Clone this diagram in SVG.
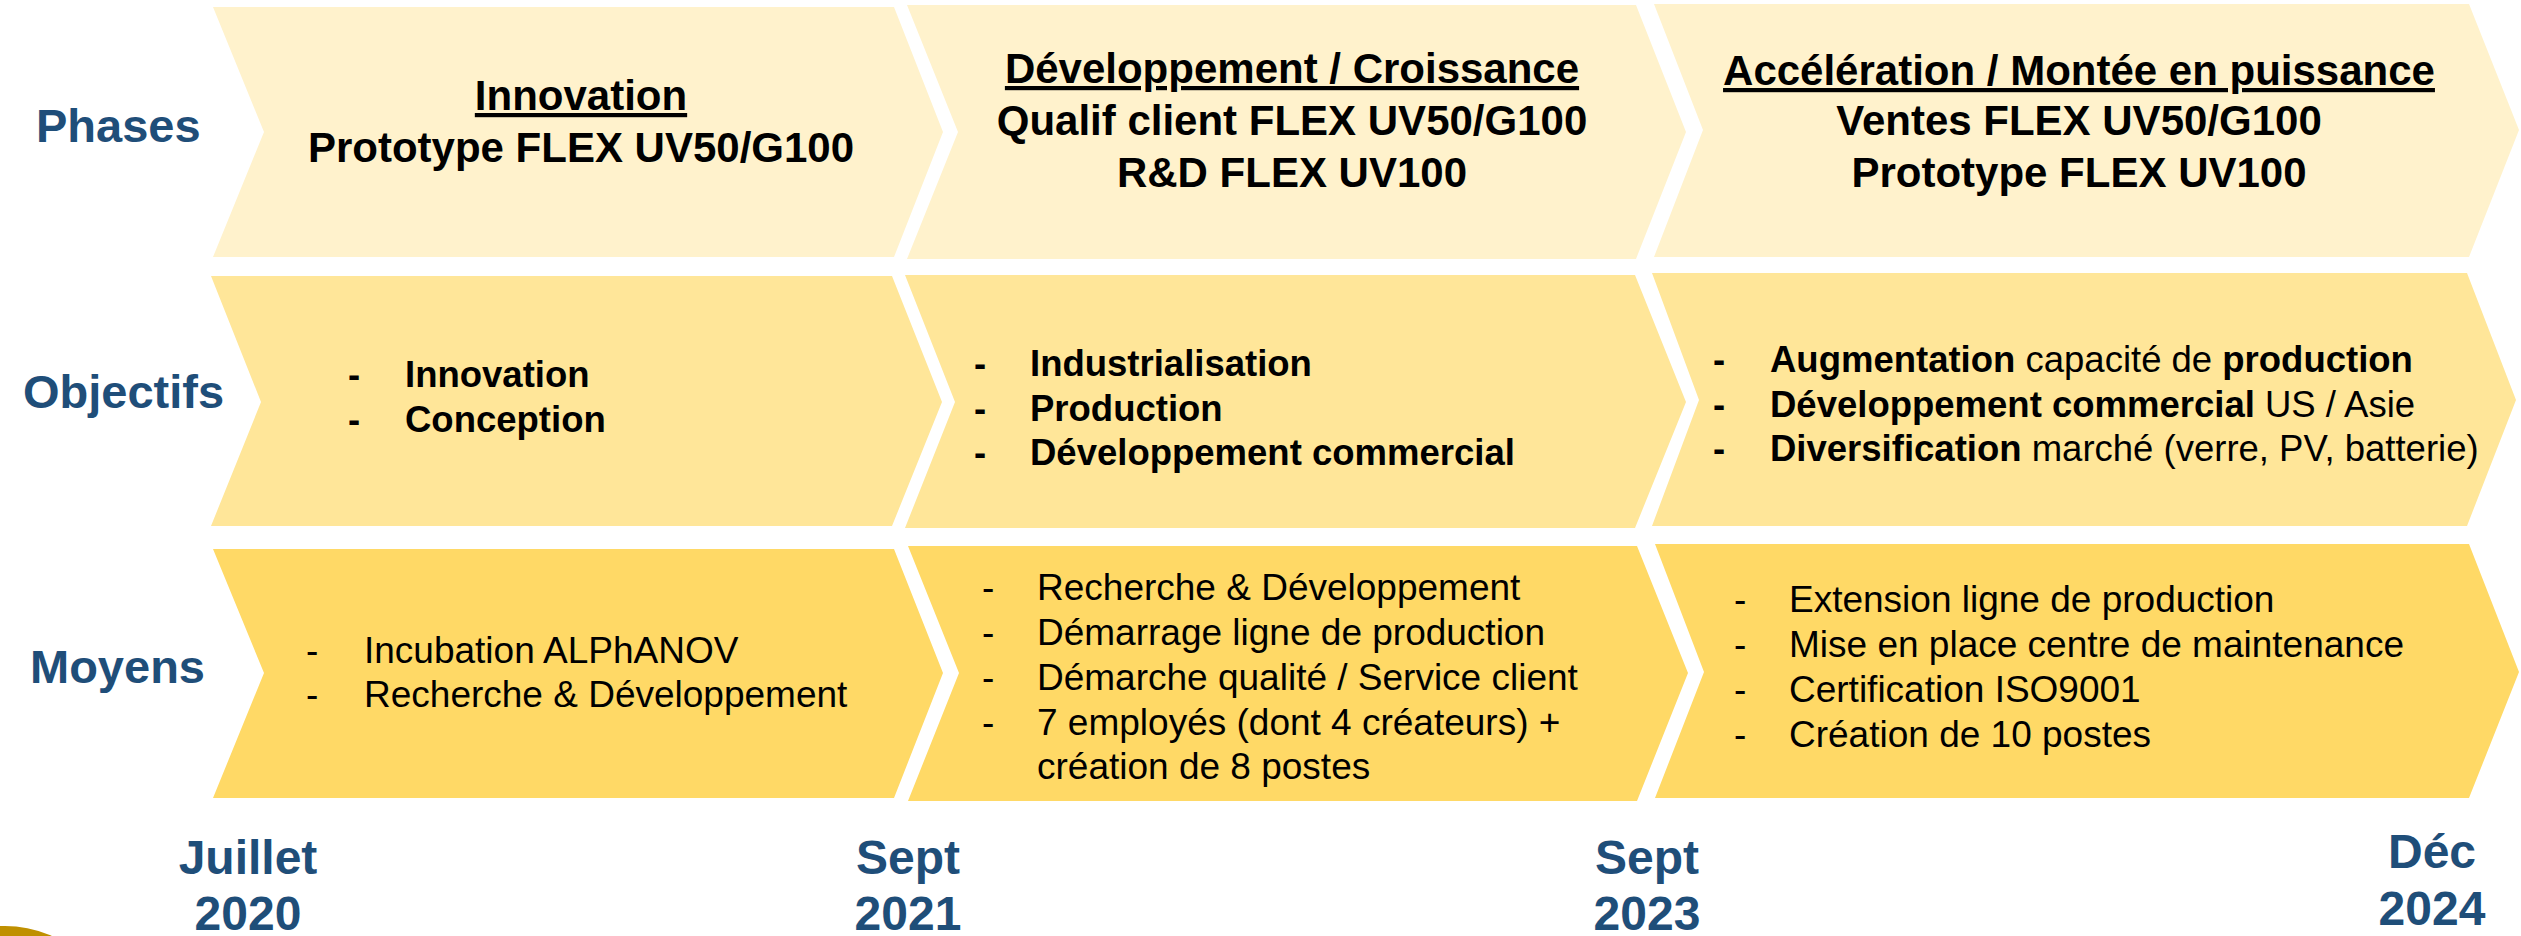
<svg xmlns="http://www.w3.org/2000/svg" width="2521" height="936" viewBox="0 0 2521 936">
<style>
text{font-family:"Liberation Sans",Arial,sans-serif;fill:#000}
.lbl{font-size:47px;font-weight:bold;fill:#1F4E79}
.date{font-size:48px;font-weight:bold;fill:#1F4E79;text-anchor:middle}
.ph{font-size:42px;font-weight:bold;text-anchor:middle}
.u{text-decoration:underline}
.obj{font-size:36.5px;font-weight:bold}
.objn{font-size:36.5px}
.moy{font-size:37px}
.r1{fill:#FFF2CC}.r2{fill:#FFE699}.r3{fill:#FFD966}
</style>
<rect width="2521" height="936" fill="#fff"/>
<circle cx="5" cy="1041" r="115" fill="#BF9000"/>
<g id="labels">
<text class="lbl" x="36" y="142">Phases</text>
<text class="lbl" x="23" y="408">Objectifs</text>
<text class="lbl" x="30" y="683">Moyens</text>
</g>
<g id="phase1">
<polygon class="r1" points="213,7 894,7 943,132 894,257 213,257 264,132"/>
<text class="ph u" x="581" y="110">Innovation</text>
<text class="ph" x="581" y="162">Prototype FLEX UV50/G100</text>
</g>
<g id="phase2">
<polygon class="r1" points="907,5 1636,5 1686,132 1636,259 907,259 958,132"/>
<text class="ph u" x="1292" y="83">Développement / Croissance</text>
<text class="ph" x="1292" y="135">Qualif client FLEX UV50/G100</text>
<text class="ph" x="1292" y="187">R&amp;D FLEX UV100</text>
</g>
<g id="phase3">
<polygon class="r1" points="1654,4 2469,4 2519,130 2469,257 1654,257 1703,130"/>
<text class="ph u" x="2079" y="85">Accélération / Montée en puissance</text>
<text class="ph" x="2079" y="135">Ventes FLEX UV50/G100</text>
<text class="ph" x="2079" y="187">Prototype FLEX UV100</text>
</g>
<g id="obj1">
<polygon class="r2" points="211,276 892,276 942,402 892,526 211,526 261,402"/>
<text class="obj" x="348" y="387">-</text><text class="obj" x="405" y="387">Innovation</text>
<text class="obj" x="348" y="432">-</text><text class="obj" x="405" y="432">Conception</text>
</g>
<g id="obj2">
<polygon class="r2" points="905,275 1635,275 1686,402 1635,528 905,528 955,402"/>
<text class="obj" x="974" y="376">-</text><text class="obj" x="1030" y="376">Industrialisation</text>
<text class="obj" x="974" y="421">-</text><text class="obj" x="1030" y="421">Production</text>
<text class="obj" x="974" y="465">-</text><text class="obj" x="1030" y="465">Développement commercial</text>
</g>
<g id="obj3">
<polygon class="r2" points="1652,273 2467,273 2516,400 2467,526 1652,526 1699,400"/>
<text class="obj" x="1713" y="372">-</text><text class="objn" x="1770" y="372"><tspan font-weight="bold">Augmentation</tspan> capacité de <tspan font-weight="bold">production</tspan></text>
<text class="obj" x="1713" y="417">-</text><text class="objn" x="1770" y="417"><tspan font-weight="bold">Développement commercial</tspan> US / Asie</text>
<text class="obj" x="1713" y="461">-</text><text class="objn" x="1770" y="461"><tspan font-weight="bold">Diversification</tspan> marché (verre, PV, batterie)</text>
</g>
<g id="moy1">
<polygon class="r3" points="213,549 894,549 943,673 894,798 213,798 264,673"/>
<text class="moy" x="306" y="663">-</text><text class="moy" x="364" y="663">Incubation ALPhANOV</text>
<text class="moy" x="306" y="707">-</text><text class="moy" x="364" y="707">Recherche &amp; Développement</text>
</g>
<g id="moy2">
<polygon class="r3" points="908,546 1637,546 1688,673 1637,801 908,801 959,673"/>
<text class="moy" x="982" y="600">-</text><text class="moy" x="1037" y="600">Recherche &amp; Développement</text>
<text class="moy" x="982" y="645">-</text><text class="moy" x="1037" y="645">Démarrage ligne de production</text>
<text class="moy" x="982" y="690">-</text><text class="moy" x="1037" y="690">Démarche qualité / Service client</text>
<text class="moy" x="982" y="735">-</text><text class="moy" x="1037" y="735">7 employés (dont 4 créateurs) +</text>
<text class="moy" x="1037" y="779">création de 8 postes</text>
</g>
<g id="moy3">
<polygon class="r3" points="1655,544 2469,544 2519,672 2469,798 1655,798 1704,672"/>
<text class="moy" x="1734" y="612">-</text><text class="moy" x="1789" y="612">Extension ligne de production</text>
<text class="moy" x="1734" y="657">-</text><text class="moy" x="1789" y="657">Mise en place centre de maintenance</text>
<text class="moy" x="1734" y="702">-</text><text class="moy" x="1789" y="702">Certification ISO9001</text>
<text class="moy" x="1734" y="747">-</text><text class="moy" x="1789" y="747">Création de 10 postes</text>
</g>
<g id="dates">
<text class="date" x="248" y="874">Juillet</text><text class="date" x="248" y="930">2020</text>
<text class="date" x="908" y="874">Sept</text><text class="date" x="908" y="930">2021</text>
<text class="date" x="1647" y="874">Sept</text><text class="date" x="1647" y="930">2023</text>
<text class="date" x="2432" y="868">Déc</text><text class="date" x="2432" y="925">2024</text>
</g>
<g id="connectors"></g>
</svg>
